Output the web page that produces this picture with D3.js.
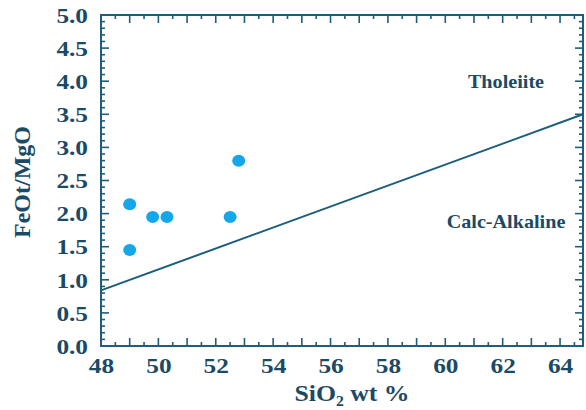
<!DOCTYPE html>
<html>
<head>
<meta charset="utf-8">
<script src="https://cdn.jsdelivr.net/npm/d3@7"></script>
<style>
  body { margin: 0; background: #fff; }
  svg text { font-family: "Liberation Serif", "DejaVu Serif", "Times New Roman", serif !important; font-weight: bold; fill: #1b4a64; }
</style>
</head>
<body>
<svg id="chart" width="586" height="410"></svg>
<script>
let width = 586;
let height = 410;
let margin = { top: 15, right: 3, bottom: 64, left: 101 };

// samples: SiO2 wt% and FeOt/MgO
let sio2 = [49.0, 49.0, 49.8, 50.3, 52.5, 52.8];
let feoMgo = [2.14, 1.45, 1.95, 1.95, 1.95, 2.80];

// tholeiite / calc-alkaline divider
let lineX = [48, 64.8];
let lineY = [0.84, 3.50];

let xTicks = [48, 50, 52, 54, 56, 58, 60, 62, 64];
let yTicks = [0, 0.5, 1, 1.5, 2, 2.5, 3, 3.5, 4, 4.5, 5];

let axisColor = "#1c5e7c";
let dotColor = "#16a6ea";

let svg = d3.select("#chart");

let x = d3.scaleLinear()
    .domain([48, 64.8])
    .range([margin.left, width - margin.right]);

let y = d3.scaleLinear()
    .domain([0, 5])
    .range([height - margin.bottom, margin.top]);

let x0 = x.range()[0], x1 = x.range()[1];
let y0 = y.range()[0], y1 = y.range()[1];

// inward tick marks on all four sides
let xMajor = d3.range(48, 65, 1);
let xMinor = d3.range(48.5, 64.8, 1);
let yMajor = d3.range(0, 5.01, 0.5);
let yMinor = d3.range(0, 5.01, 0.1).filter(v => Math.abs(v * 2 - Math.round(v * 2)) > 0.01);

let ticks = svg.append("g")
    .attr("stroke", axisColor)
    .attr("stroke-width", 1.6);

function tickLines(vals, len, side) {
  ticks.selectAll(null)
    .data(vals)
    .join("line")
    .attr("x1", d => side == "bottom" || side == "top" ? x(d) : (side == "left" ? x0 : x1))
    .attr("x2", d => side == "bottom" || side == "top" ? x(d) : (side == "left" ? x0 + len : x1 - len))
    .attr("y1", d => side == "left" || side == "right" ? y(d) : (side == "bottom" ? y0 : y1))
    .attr("y2", d => side == "left" || side == "right" ? y(d) : (side == "bottom" ? y0 - len : y1 + len));
}
tickLines(xMajor, 8, "bottom");
tickLines(xMinor, 4, "bottom");
tickLines(xMajor, 8, "top");
tickLines(xMinor, 4, "top");
tickLines(yMajor, 8, "left");
tickLines(yMinor, 4, "left");
tickLines(yMajor, 8, "right");
tickLines(yMinor, 4, "right");

// frame
svg.append("rect")
    .attr("x", x0)
    .attr("y", y1)
    .attr("width", x1 - x0)
    .attr("height", y0 - y1)
    .attr("fill", "none")
    .attr("stroke", axisColor)
    .attr("stroke-width", 2);

// tick labels
let xAxis = svg.append("g")
    .attr("transform", `translate(0,${y0})`)
    .call(d3.axisBottom(x).tickValues(xTicks).tickSize(0).tickPadding(11).tickFormat(d3.format("d")))
    .call(g => g.select(".domain").remove());
xAxis.attr("font-family", null).attr("font-size", null);
xAxis.selectAll("text")
    .style("font-size", "22px")
    .attr("transform", "scale(1.15,1)")
    .attr("x", 0);

let yAxis = svg.append("g")
    .attr("transform", `translate(${x0},0)`)
    .call(d3.axisLeft(y).tickValues(yTicks).tickSize(0).tickPadding(13).tickFormat(d3.format(".1f")))
    .call(g => g.select(".domain").remove());
yAxis.attr("font-family", null).attr("font-size", null);
yAxis.selectAll("text")
    .style("font-size", "22px")
    .attr("dy", "0.33em")
    .attr("x", -13 / 1.15)
    .attr("transform", "scale(1.15,1)");

// divider line
svg.append("line")
    .attr("x1", x(lineX[0]))
    .attr("y1", y(lineY[0]))
    .attr("x2", x(lineX[1]))
    .attr("y2", y(lineY[1]))
    .attr("stroke", axisColor)
    .attr("stroke-width", 2);

// sample points
svg.append("g")
    .selectAll("ellipse")
    .data(sio2)
    .join("ellipse")
    .attr("cx", d => x(d))
    .attr("cy", (d, i) => y(feoMgo[i]))
    .attr("rx", 6.5)
    .attr("ry", 6)
    .attr("fill", dotColor);

// field labels
svg.append("text")
    .attr("transform", "translate(506,88) scale(1.12,1)")
    .attr("text-anchor", "middle")
    .style("font-size", "18px")
    .text("Tholeiite");

svg.append("text")
    .attr("transform", "translate(506,228) scale(1.12,1)")
    .attr("text-anchor", "middle")
    .style("font-size", "18px")
    .text("Calc-Alkaline");

// axis titles
let xTitle = svg.append("text")
    .attr("transform", "translate(352,401) scale(1.12,1)")
    .attr("text-anchor", "middle")
    .style("font-size", "23px");
xTitle.append("tspan").text("SiO");
xTitle.append("tspan").attr("dy", 5).style("font-size", "14px").text("2");
xTitle.append("tspan").attr("dy", -5).text(" wt %");

svg.append("text")
    .attr("transform", "translate(30,182) rotate(-90)")
    .attr("text-anchor", "middle")
    .style("font-size", "24px")
    .text("FeOt/MgO");
</script>
</body>
</html>
